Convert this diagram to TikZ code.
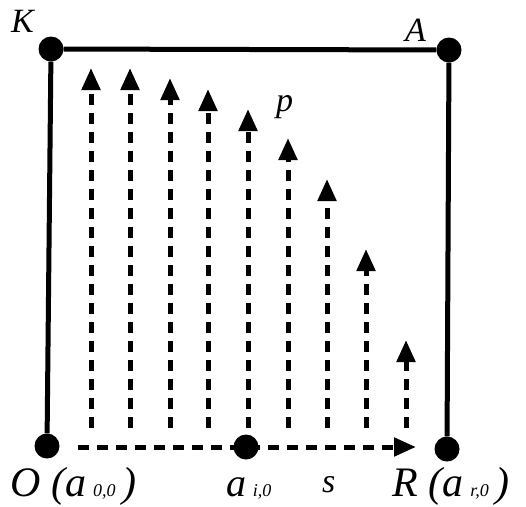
\documentclass[tikz,border=0pt]{standalone}
\usepackage{fontspec}
\setmainfont{Liberation Serif}
\usetikzlibrary{arrows.meta}
\tikzset{
  dot/.style={circle,fill=black,inner sep=0pt,minimum size=25pt},
  frame/.style={line width=5pt},
  dasharrow/.style={line width=5pt,dash pattern=on 11pt off 8pt,-{Triangle[length=22pt,width=18pt]}},
  biglbl/.style={inner sep=0pt,anchor=base west,font=\fontsize{42}{42}\selectfont\itshape},
  toplbl/.style={inner sep=0pt,anchor=base west,font=\fontsize{34}{34}\selectfont\itshape},
}
\newcommand{\subsc}[1]{{\fontsize{18}{18}\selectfont\itshape #1}}
\begin{document}
\begin{tikzpicture}[x=1pt,y=-1pt]
\useasboundingbox (0,0) rectangle (526,506);
% vertical arrows
\foreach \i/\x/\t in {1/91/68,2/130/68,3/170/78,4/208/89,5/248/109,6/288/138,7/327/179,8/366/249,9/406/340}{
  \coordinate (b\i) at (\x,428);
  \coordinate (t\i) at (\x,\t);
  \draw[dasharrow] (b\i) -- (t\i);
}
% horizontal arrow
\coordinate (hs) at (78,447);
\coordinate (he) at (416,447);
\draw[dasharrow] (hs) -- (he);
% corners
\node[dot] (K) at (51,49) {};
\node[dot] (A) at (449,50) {};
\node[dot] (O) at (47,446) {};
\node[dot] (R) at (447,449) {};
\node[dot] (ai) at (246,447) {};
\draw[frame] (K) -- (A);
\draw[frame] (A) -- (R);
\draw[frame] (K) -- (O);
% labels
\node[toplbl] (lK) at (11,32) {K};
\node[toplbl] (lA) at (405,41) {A};
\node[toplbl] (lp) at (276,111) {p};
\node[biglbl] (lO) at (10,496) {O (a\,\subsc{0,0}\,)};
\node[biglbl,font=\fontsize{40}{40}\selectfont\itshape] (lai) at (226,496) {a\,\subsc{i,0}};
\node[toplbl] (ls) at (322,492) {s};
\node[biglbl] (lR) at (392,496) {R (a\,\subsc{r,0}\,)};
\end{tikzpicture}
\end{document}
